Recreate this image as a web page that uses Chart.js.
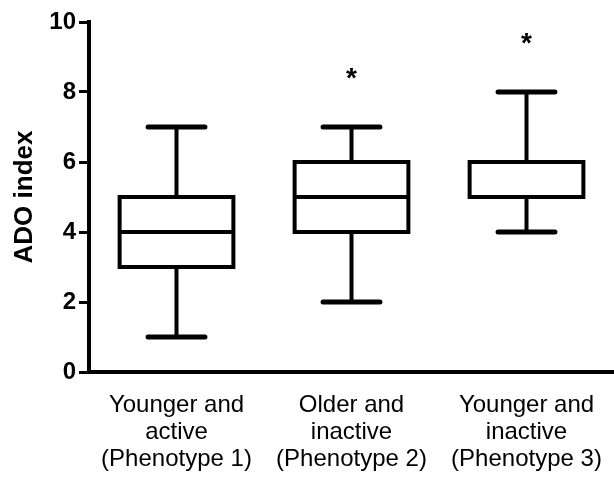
<!DOCTYPE html>
<html>
<head>
<meta charset="utf-8">
<script src="https://cdn.jsdelivr.net/npm/chart.js@4"></script>
<style>
  html, body { margin: 0; padding: 0; background: #fff; }
</style>
</head>
<body>
<canvas id="grafico" width="614" height="478"></canvas>
<script>
// categorias y valores de cada caja
const categorias = [
    ['Younger and', 'active', '(Phenotype 1)'],
    ['Older and', 'inactive', '(Phenotype 2)'],
    ['Younger and', 'inactive', '(Phenotype 3)']
];
const minimos = [1, 2, 4];
const cuartil1 = [3, 4, 5];
const medianas = [4, 5, 5];
const cuartil3 = [5, 6, 6];
const maximos = [7, 7, 8];
const asteriscos = [null, 8.5, 9.5];
const ticksY = [0, 2, 4, 6, 8, 10];

const fuente = "'Liberation Sans', Arial, sans-serif";

// dibuja bigotes, contorno de la caja, medianas y asteriscos con las escalas del grafico
const bigotesPlugin = {
    id: 'bigotes',
    beforeDatasetsDraw(chart) {
        const ctx = chart.ctx;
        const y = chart.scales.y;
        const barras = chart.getDatasetMeta(0).data;
        ctx.save();
        ctx.strokeStyle = '#000';
        barras.forEach((barra, i) => {
            const cx = barra.x;
            const ancho = barra.width * 0.5;
            ctx.lineWidth = 4;
            ctx.lineCap = 'butt';
            ctx.beginPath();
            ctx.moveTo(cx, y.getPixelForValue(maximos[i]));
            ctx.lineTo(cx, y.getPixelForValue(cuartil3[i]));
            ctx.moveTo(cx, y.getPixelForValue(minimos[i]));
            ctx.lineTo(cx, y.getPixelForValue(cuartil1[i]));
            ctx.stroke();
            ctx.lineWidth = 5;
            ctx.lineCap = 'round';
            ctx.beginPath();
            [maximos[i], minimos[i]].forEach(v => {
                const py = y.getPixelForValue(v);
                ctx.moveTo(cx - ancho / 2, py);
                ctx.lineTo(cx + ancho / 2, py);
            });
            ctx.stroke();
        });
        ctx.restore();
    },
    afterDatasetsDraw(chart) {
        const ctx = chart.ctx;
        const y = chart.scales.y;
        const barras = chart.getDatasetMeta(0).data;
        ctx.save();
        ctx.strokeStyle = '#000';
        ctx.fillStyle = '#000';
        ctx.lineWidth = 4;
        barras.forEach((barra, i) => {
            const izq = barra.x - barra.width / 2;
            const arriba = Math.min(barra.y, barra.base);
            const alto = Math.abs(barra.base - barra.y);
            ctx.strokeRect(izq, arriba, barra.width, alto);
            const py = y.getPixelForValue(medianas[i]);
            ctx.beginPath();
            ctx.moveTo(izq, py);
            ctx.lineTo(izq + barra.width, py);
            ctx.stroke();
            if (asteriscos[i] !== null) {
                ctx.font = 'bold 28px ' + fuente;
                ctx.textAlign = 'center';
                ctx.textBaseline = 'middle';
                ctx.fillText('*', barra.x, y.getPixelForValue(asteriscos[i]) + 5);
            }
        });
        ctx.restore();
    }
};

const ctx = document.getElementById('grafico').getContext('2d');
new Chart(ctx, {
    type: 'bar',
    data: {
        labels: categorias,
        datasets: [{
            label: 'ADO index',
            data: cuartil1.map((q, i) => [q, cuartil3[i]]),
            backgroundColor: '#fff',
            borderWidth: 0,
            barPercentage: 0.65,
            categoryPercentage: 1
        }]
    },
    options: {
        responsive: false,
        animation: false,
        layout: { padding: { top: 22, right: 0, bottom: 0, left: 0 } },
        plugins: {
            legend: { display: false },
            tooltip: { enabled: false }
        },
        scales: {
            x: {
                grid: { display: false },
                border: { display: true, color: '#000', width: 4 },
                ticks: {
                    color: '#000',
                    padding: 12,
                    maxRotation: 0,
                    font: { family: fuente, size: 24, lineHeight: 1.125 }
                },
                afterFit(escala) { escala.height = 106; }
            },
            y: {
                min: 0,
                max: 10,
                afterBuildTicks(escala) {
                    escala.ticks = ticksY.map(v => ({ value: v }));
                },
                grid: {
                    drawOnChartArea: false,
                    drawTicks: true,
                    tickLength: 10,
                    tickWidth: 3,
                    color: '#000'
                },
                border: { display: true, color: '#000', width: 4 },
                ticks: {
                    color: '#000',
                    padding: 3,
                    font: { family: fuente, size: 24, weight: 'bold' }
                },
                title: {
                    display: true,
                    text: 'ADO index',
                    color: '#000',
                    padding: { top: 9, bottom: 0 },
                    font: { family: fuente, size: 26, weight: 'bold' }
                },
                afterFit(escala) { escala.width = 89; }
            }
        }
    },
    plugins: [bigotesPlugin]
});
</script>
</body>
</html>
